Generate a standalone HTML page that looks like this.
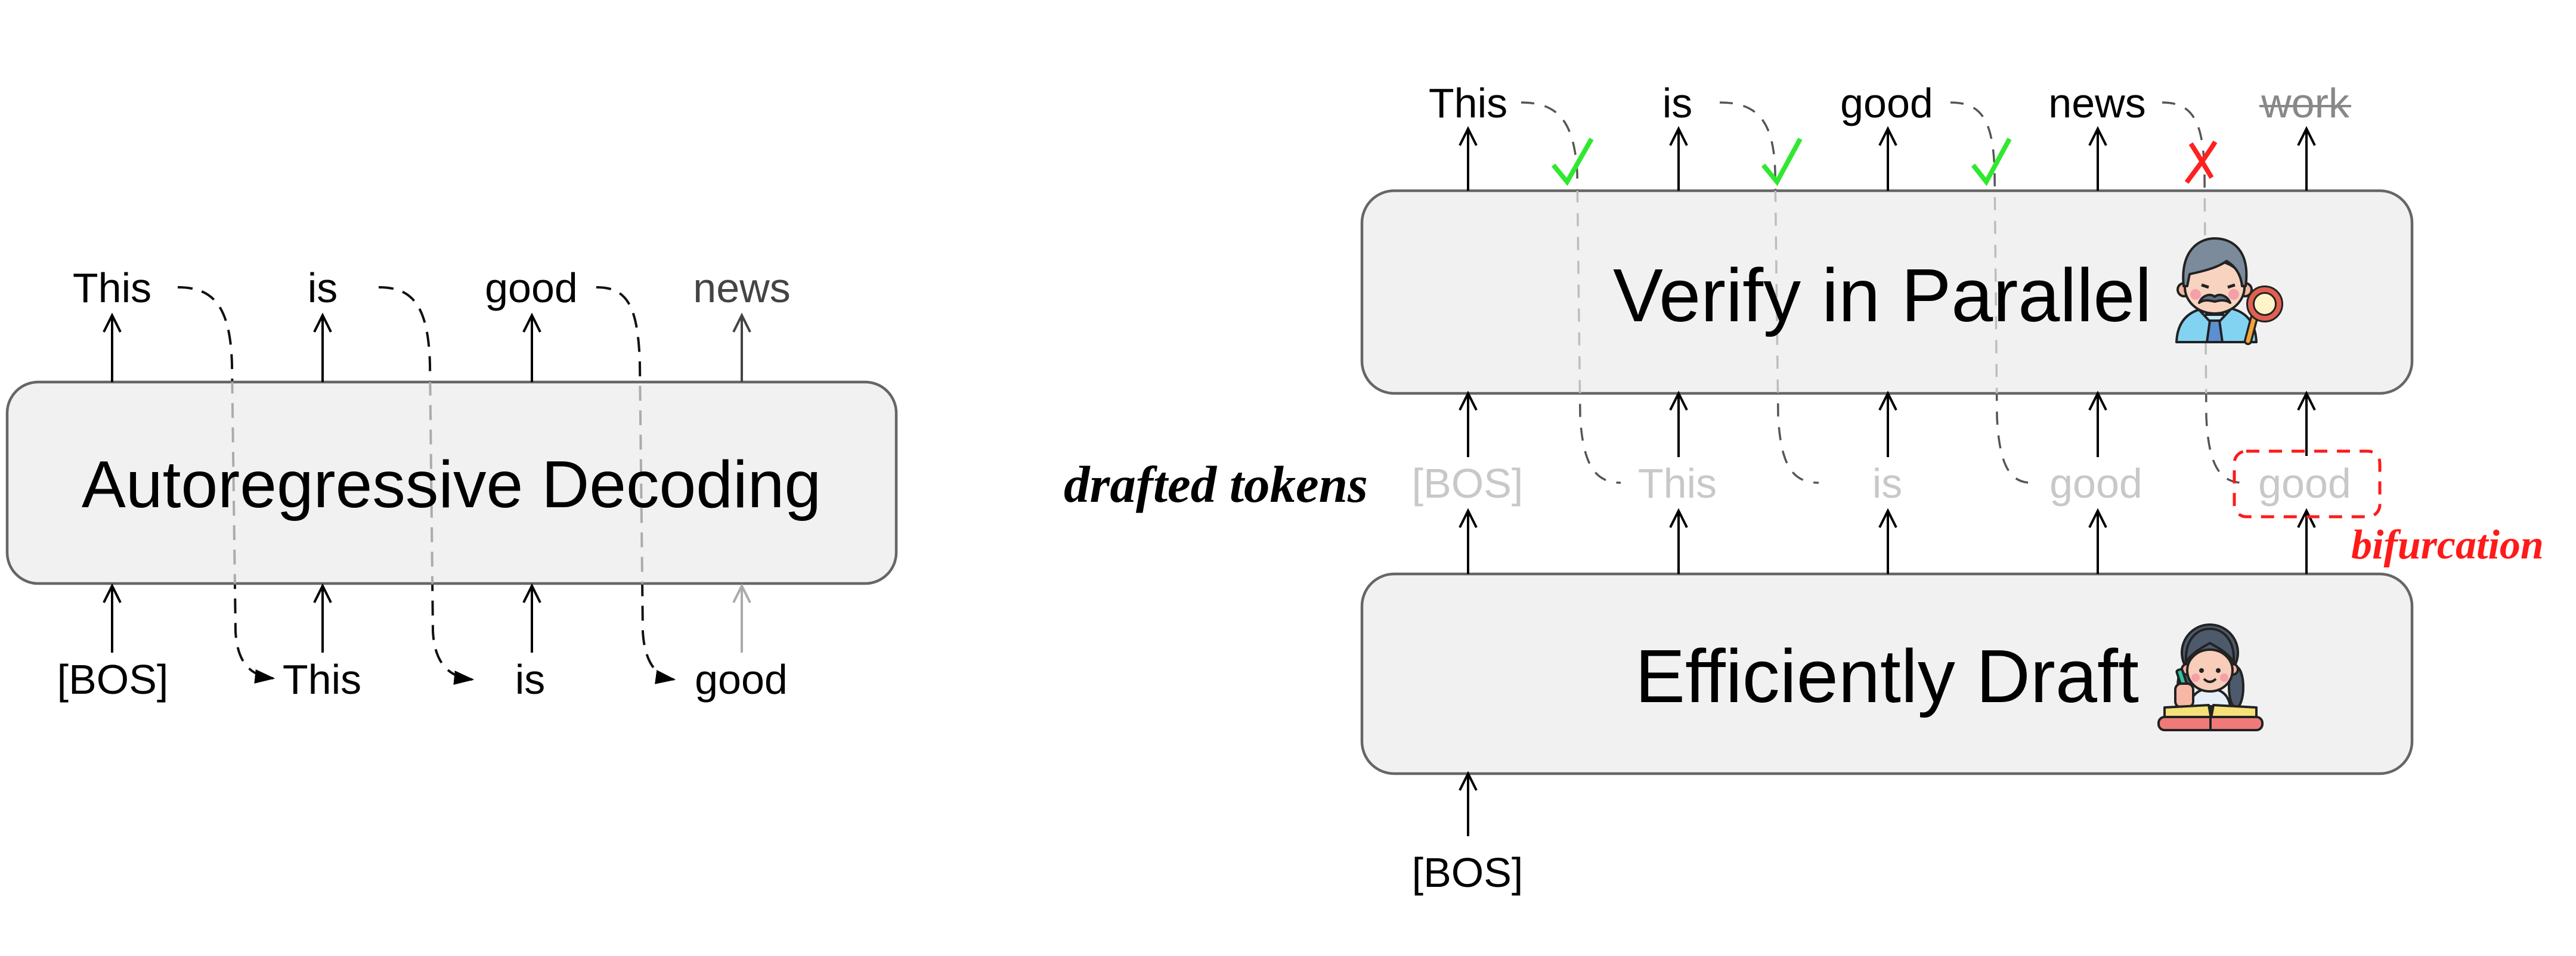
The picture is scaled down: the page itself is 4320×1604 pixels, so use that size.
<!DOCTYPE html>
<html>
<head>
<meta charset="utf-8">
<style>
  html,body{margin:0;padding:0;background:#fff;}
  body{width:4320px;height:1604px;overflow:hidden;}
  svg{display:block;}
  text{font-family:"Liberation Sans", Arial, sans-serif;}
  .tok{font-size:70px;text-anchor:middle;}
  .ser{font-family:"Liberation Serif", "Times New Roman", serif;font-weight:bold;font-style:italic;}
</style>
</head>
<body>
<svg width="4320" height="1604" viewBox="0 0 4320 1604" xmlns="http://www.w3.org/2000/svg">
  <defs>
    <clipPath id="inL"><rect x="12" y="641" width="1491" height="338" rx="52"/></clipPath>
    <clipPath id="inR"><rect x="2284" y="320" width="1761" height="340" rx="54"/></clipPath>
    <marker id="ah" viewBox="0 0 10 10" refX="9" refY="5" markerWidth="34" markerHeight="24" markerUnits="userSpaceOnUse" orient="auto" preserveAspectRatio="none">
      <path d="M0,0 L10,5 L0,10 z" fill="#000"/>
    </marker>
  </defs>

  <!-- ================= LEFT: Autoregressive ================= -->
  <!-- dashed curves (dark, outside) -->
  <g fill="none" stroke="#111" stroke-width="4" stroke-dasharray="25 16">
    <path d="M298,482 C355,482 386,510 389,610 L395,1060 C398,1110 418,1134 458,1138" marker-end="url(#ah)"/>
    <path d="M635,482 C690,482 718,510 721,610 L726,1060 C729,1110 750,1136 792,1140" marker-end="url(#ah)"/>
    <path d="M1000,482 C1050,482 1070,510 1073,610 L1078,1060 C1081,1110 1100,1136 1130,1140" marker-end="url(#ah)"/>
  </g>
  <!-- box -->
  <rect x="12" y="641" width="1491" height="338" rx="52" fill="#f1f1f1" stroke="#666" stroke-width="4.5"/>
  <!-- dashed inside box (light) -->
  <g fill="none" stroke="#ababab" stroke-width="4" stroke-dasharray="25 16" clip-path="url(#inL)">
    <path d="M298,482 C355,482 386,510 389,610 L395,1060 C398,1110 418,1134 458,1138"/>
    <path d="M635,482 C690,482 718,510 721,610 L726,1060 C729,1110 750,1136 792,1140"/>
    <path d="M1000,482 C1050,482 1070,510 1073,610 L1078,1060 C1081,1110 1100,1136 1130,1140"/>
  </g>
  <text x="757" y="851" font-size="111" text-anchor="middle" fill="#000">Autoregressive Decoding</text>

  <!-- left arrows -->
  <g fill="none" stroke="#000" stroke-width="4">
    <path d="M188,641 L188,531 M174,557 L188,529 L202,557"/>
    <path d="M541,641 L541,531 M527,557 L541,529 L555,557"/>
    <path d="M892,641 L892,531 M878,557 L892,529 L906,557"/>
    <path d="M188,1095 L188,985 M174,1011 L188,983 L202,1011"/>
    <path d="M541,1095 L541,985 M527,1011 L541,983 L555,1011"/>
    <path d="M892,1095 L892,985 M878,1011 L892,983 L906,1011"/>
  </g>
  <path d="M1244,641 L1244,531 M1230,557 L1244,529 L1258,557" fill="none" stroke="#444" stroke-width="4"/>
  <path d="M1244,1095 L1244,985 M1230,1011 L1244,983 L1258,1011" fill="none" stroke="#aaa" stroke-width="4"/>

  <!-- left tokens -->
  <text class="tok" x="188" y="507" fill="#000">This</text>
  <text class="tok" x="541" y="507" fill="#000">is</text>
  <text class="tok" x="891" y="507" fill="#000">good</text>
  <text class="tok" x="1244" y="507" fill="#444">news</text>
  <text class="tok" x="189" y="1164" fill="#000">[BOS]</text>
  <text class="tok" x="540" y="1164" fill="#000">This</text>
  <text class="tok" x="889" y="1164" fill="#000">is</text>
  <text class="tok" x="1243" y="1164" fill="#000">good</text>

  <!-- ================= RIGHT: Speculative ================= -->
  <!-- dashed curves outside -->
  <g fill="none" stroke="#555" stroke-width="3.5" stroke-dasharray="22 18">
    <path d="M2551,172 C2610,172 2640,200 2645,290 L2650,700 C2655,780 2675,810 2718,810"/>
    <path d="M2884,172 C2945,172 2975,200 2977,290 L2982,700 C2987,780 3005,810 3050,810"/>
    <path d="M3271,172 C3322,172 3343,200 3345,290 L3349,700 C3353,780 3370,810 3407,810"/>
    <path d="M3626,172 C3675,172 3695,200 3697,290 L3700,700 C3704,780 3722,810 3762,810"/>
  </g>

  <!-- verify box -->
  <rect x="2284" y="320" width="1761" height="340" rx="54" fill="#f1f1f1" stroke="#666" stroke-width="4.5"/>
  <g fill="none" stroke="#bdbdbd" stroke-width="3.5" stroke-dasharray="22 18" clip-path="url(#inR)">
    <path d="M2551,172 C2610,172 2640,200 2645,290 L2650,700 C2655,780 2675,810 2718,810"/>
    <path d="M2884,172 C2945,172 2975,200 2977,290 L2982,700 C2987,780 3005,810 3050,810"/>
    <path d="M3271,172 C3322,172 3343,200 3345,290 L3349,700 C3353,780 3370,810 3407,810"/>
    <path d="M3626,172 C3675,172 3695,200 3697,290 L3700,700 C3704,780 3722,810 3762,810"/>
  </g>
  <text x="2705" y="539" font-size="126" fill="#000">Verify in Parallel</text>

  <!-- draft box -->
  <rect x="2284" y="963" width="1761" height="335" rx="54" fill="#f1f1f1" stroke="#666" stroke-width="4.5"/>
  <text x="2742" y="1178" font-size="126" fill="#000">Efficiently Draft</text>

  <!-- right arrows -->
  <g fill="none" stroke="#000" stroke-width="4">
    <!-- verify -> top tokens -->
    <path d="M2462,320 L2462,218 M2448,244 L2462,216 L2476,244"/>
    <path d="M2815,320 L2815,218 M2801,244 L2815,216 L2829,244"/>
    <path d="M3166,320 L3166,218 M3152,244 L3166,216 L3180,244"/>
    <path d="M3518,320 L3518,218 M3504,244 L3518,216 L3532,244"/>
    <path d="M3868,320 L3868,218 M3854,244 L3868,216 L3882,244"/>
    <!-- drafted -> verify -->
    <path d="M2462,767 L2462,662 M2448,688 L2462,660 L2476,688"/>
    <path d="M2815,767 L2815,662 M2801,688 L2815,660 L2829,688"/>
    <path d="M3166,767 L3166,662 M3152,688 L3166,660 L3180,688"/>
    <path d="M3518,767 L3518,662 M3504,688 L3518,660 L3532,688"/>
    <path d="M3868,765 L3868,662 M3854,688 L3868,660 L3882,688"/>
    <!-- draft -> drafted -->
    <path d="M2462,963 L2462,859 M2448,885 L2462,857 L2476,885"/>
    <path d="M2815,963 L2815,859 M2801,885 L2815,857 L2829,885"/>
    <path d="M3166,963 L3166,859 M3152,885 L3166,857 L3180,885"/>
    <path d="M3518,963 L3518,859 M3504,885 L3518,857 L3532,885"/>
    <path d="M3868,963 L3868,859 M3854,885 L3868,857 L3882,885"/>
    <!-- BOS -> draft -->
    <path d="M2462,1403 L2462,1300 M2448,1326 L2462,1298 L2476,1326"/>
  </g>

  <!-- top tokens -->
  <text class="tok" x="2462" y="197" fill="#000">This</text>
  <text class="tok" x="2813" y="197" fill="#000">is</text>
  <text class="tok" x="3164" y="197" fill="#000">good</text>
  <text class="tok" x="3517" y="197" fill="#000">news</text>
  <text class="tok" x="3866" y="197" fill="#888">work</text>
  <line x1="3789" y1="178" x2="3943" y2="178" stroke="#888" stroke-width="4"/>

  <!-- checks -->
  <g fill="none" stroke="#2fe82f" stroke-width="8" stroke-linejoin="miter" stroke-linecap="butt">
    <path d="M2605,277 L2628,305 L2669,233"/>
    <path d="M2957,277 L2980,305 L3019,233"/>
    <path d="M3309,277 L3331,305 L3370,233"/>
  </g>
  <!-- red X -->
  <g fill="none" stroke="#ff2020" stroke-width="8" stroke-linecap="butt">
    <path d="M3667,306 C3685,282 3700,262 3715,238"/>
    <path d="M3674,241 C3688,262 3698,280 3709,298"/>
  </g>

  <!-- drafted tokens -->
  <text class="tok" x="2461" y="835" fill="#c8c8c8">[BOS]</text>
  <text class="tok" x="2813" y="835" fill="#c8c8c8">This</text>
  <text class="tok" x="3165" y="835" fill="#c8c8c8">is</text>
  <text class="tok" x="3515" y="835" fill="#c8c8c8">good</text>
  <text class="tok" x="3865" y="835" fill="#c8c8c8">good</text>

  <!-- red dashed box -->
  <rect x="3747" y="757" width="244" height="110" rx="20" fill="none" stroke="#ff1a1a" stroke-width="5" stroke-dasharray="22 16"/>

  <text class="ser" x="1784" y="842" font-size="87" fill="#000">drafted tokens</text>
  <text class="ser" x="3943" y="937" font-size="70" fill="#ff1a1a">bifurcation</text>

  <text class="tok" x="2461" y="1488" fill="#000">[BOS]</text>

  <!-- ===== Emoji: man with magnifier ===== -->
  <g transform="translate(3648,398)" stroke="#222" stroke-width="4" stroke-linejoin="round">
    <path d="M2,176 Q4,130 45,120 L95,120 Q134,130 136,176 Z" fill="#82d3f2"/>
    <path d="M40,122 L66,150 L92,122 Z" fill="#bfe9fb"/>
    <path d="M58,140 L74,140 L79,176 L53,176 Z" fill="#5b8fd2"/>
    <rect x="52" y="106" width="28" height="24" fill="#f7cdb8"/>
    <circle cx="15" cy="88" r="11" fill="#f0b8a0"/>
    <circle cx="117" cy="88" r="11" fill="#f0b8a0"/>
    <ellipse cx="66" cy="84" rx="50" ry="44" fill="#f8d3c0"/>
    <path d="M14,82 C8,22 40,2 66,2 C96,2 126,22 118,82 L112,82 C110,62 100,48 86,40 C70,52 42,58 24,62 L20,82 Z" fill="#7b8b9c"/>
    <circle cx="34" cy="96" r="9" fill="#f4a0a8" stroke="none"/>
    <circle cx="98" cy="96" r="9" fill="#f4a0a8" stroke="none"/>
    <path d="M44,80 L56,84 M88,84 L100,80" fill="none" stroke-width="5"/>
    <path d="M40,110 C46,96 60,94 66,100 C72,94 86,96 92,110 C84,104 74,106 66,108 C58,106 48,104 40,110 Z" fill="#5f6f80"/>
    <path d="M132,136 L122,174" stroke="#222" stroke-width="14" stroke-linecap="round"/>
    <path d="M132,136 L122,174" stroke="#f2a43a" stroke-width="7" stroke-linecap="round"/>
    <circle cx="150" cy="112" r="24" fill="#fff3c8" stroke="#222" stroke-width="14"/>
    <circle cx="150" cy="112" r="24" fill="none" stroke="#e06050" stroke-width="8"/>
  </g>

  <!-- ===== Emoji: girl drafting ===== -->
  <g transform="translate(3618,1045)" stroke="#222" stroke-width="4" stroke-linejoin="round">
    <ellipse cx="46" cy="108" rx="12" ry="34" fill="#4d5a6b"/>
    <ellipse cx="132" cy="108" rx="12" ry="34" fill="#4d5a6b"/>
    <circle cx="88" cy="50" r="47" fill="#4d5a6b"/>
    <path d="M54,140 Q58,112 88,110 Q118,112 122,140 Z" fill="#e6eef8"/>
    <circle cx="50" cy="78" r="9" fill="#f2b39f"/>
    <circle cx="126" cy="78" r="9" fill="#f2b39f"/>
    <ellipse cx="88" cy="80" rx="38" ry="35" fill="#f8cdb9"/>
    <path d="M48,66 C46,28 66,10 88,10 C110,10 130,28 128,66 C118,50 102,42 88,34 C74,42 58,50 48,66 Z" fill="#4d5a6b"/>
    <circle cx="74" cy="80" r="4" fill="#222" stroke="none"/>
    <circle cx="102" cy="80" r="4" fill="#222" stroke="none"/>
    <path d="M78,94 Q88,104 98,94" fill="none"/>
    <circle cx="64" cy="92" r="7" fill="#f4a0a8" stroke="none"/>
    <circle cx="112" cy="92" r="7" fill="#f4a0a8" stroke="none"/>
    <rect x="36" y="78" width="10" height="30" rx="3" fill="#2ec4a0" transform="rotate(-18 41 93)"/>
    <rect x="30" y="102" width="30" height="40" rx="10" fill="#f6b8a4"/>
    <path d="M12,142 L86,138 L90,160 L12,160 Z" fill="#f6e07a"/>
    <path d="M90,160 L94,138 L166,142 L166,160 Z" fill="#f6e07a"/>
    <rect x="2" y="158" width="174" height="22" rx="10" fill="#f07a7a"/>
    <line x1="89" y1="140" x2="89" y2="180"/>
  </g>
</svg>
</body>
</html>
